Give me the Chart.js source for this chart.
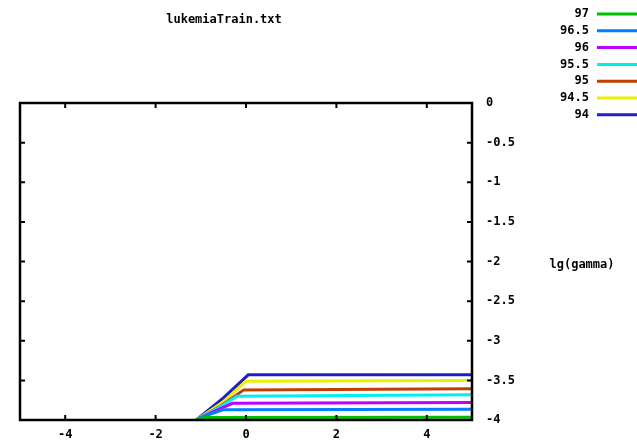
<!DOCTYPE html>
<html>
<head>
<meta charset="utf-8">
<script src="https://cdn.jsdelivr.net/npm/chart.js@4/dist/chart.umd.min.js"></script>
<style>
  html, body { margin: 0; padding: 0; background: #fff; }
  #wrap { width: 637px; height: 444px; }
</style>
</head>
<body>
<div id="wrap"><canvas id="grid"></canvas></div>
<script>
const title = 'lukemiaTrain.txt';
const yTitle = 'lg(gamma)';
const xTicks = [-4, -2, 0, 2, 4];
const yTicks = [0, -0.5, -1, -1.5, -2, -2.5, -3, -3.5, -4];

// contour levels, top of legend first
const levels = ['97', '96.5', '96', '95.5', '95', '94.5', '94'];
const colors = ['#00c000', '#0080ff', '#c000ff', '#00eeee', '#c04000', '#eeee00', '#2020c0'];

// contour lines (lg C, lg gamma)
const c97x = [-1.1, -0.9, 5];
const c97y = [-4, -3.97, -3.966];
const c965x = [-1.1, -0.8, -0.5, 5];
const c965y = [-4, -3.93, -3.87, -3.865];
const c96x = [-1.1, -0.7, -0.3, 5];
const c96y = [-4, -3.89, -3.79, -3.78];
const c955x = [-1.1, -0.65, -0.2, 5];
const c955y = [-4, -3.86, -3.70, -3.68];
const c95x = [-1.1, -0.55, -0.05, 5];
const c95y = [-4, -3.82, -3.62, -3.605];
const c945x = [-1.1, -0.5, 0, 5];
const c945y = [-4, -3.77, -3.51, -3.50];
const c94x = [-1.1, -0.5, 0.05, 5];
const c94y = [-4, -3.72, -3.43, -3.43];

const contours = [[c97x, c97y], [c965x, c965y], [c96x, c96y], [c955x, c955y],
                  [c95x, c95y], [c945x, c945y], [c94x, c94y]];

const FONT = 'bold 12px "DejaVu Sans Mono"';

const gnuplotFrame = {
  id: 'gnuplotFrame',
  afterDraw(chart) {
    const c = chart.ctx, a = chart.chartArea;
    const xs = chart.scales.x, ys = chart.scales.y;
    c.save();
    c.strokeStyle = '#000';
    c.lineWidth = 2.5;
    c.strokeRect(a.left, a.top, a.right - a.left, a.bottom - a.top);
    c.lineWidth = 2;
    c.beginPath();
    xTicks.forEach(v => {
      const px = xs.getPixelForValue(v);
      c.moveTo(px, a.bottom); c.lineTo(px, a.bottom - 5);
      c.moveTo(px, a.top); c.lineTo(px, a.top + 5);
    });
    yTicks.forEach(v => {
      const py = ys.getPixelForValue(v);
      c.moveTo(a.left, py); c.lineTo(a.left + 5, py);
      c.moveTo(a.right, py); c.lineTo(a.right - 5, py);
    });
    c.stroke();

    c.fillStyle = '#000';
    c.font = FONT;
    c.textBaseline = 'middle';
    c.textAlign = 'center';
    c.fillText(title, 224, 20);
    c.fillText(yTitle, 582, 265);

    // legend
    c.textAlign = 'right';
    levels.forEach((lab, i) => {
      const y = 14 + i * 16.8;
      c.fillStyle = '#000';
      c.fillText(lab, 589, y);
      c.strokeStyle = colors[i];
      c.lineWidth = 3;
      c.beginPath();
      c.moveTo(597, y); c.lineTo(637, y);
      c.stroke();
    });
    c.restore();
  }
};

const tickFont = { family: 'DejaVu Sans Mono', size: 12, weight: 'bold' };

new Chart(document.getElementById('grid'), {
  type: 'scatter',
  data: {
    datasets: contours.map((ct, i) => ({
      label: levels[i],
      data: ct[0].map((x, j) => ({ x: x, y: ct[1][j] })),
      showLine: true,
      borderColor: colors[i],
      backgroundColor: colors[i],
      borderWidth: 3,
      pointRadius: 0,
      tension: 0
    }))
  },
  options: {
    responsive: true,
    maintainAspectRatio: false,
    animation: false,
    layout: { padding: { left: 20, top: 103, right: 0, bottom: 0 } },
    plugins: { legend: { display: false }, tooltip: { enabled: false } },
    scales: {
      x: {
        type: 'linear', position: 'bottom', min: -5, max: 5,
        grid: { display: false, drawTicks: false },
        border: { display: false },
        afterBuildTicks: s => { s.ticks = xTicks.map(v => ({ value: v })); },
        afterFit: s => { s.height = 24; },
        ticks: { color: '#000', font: tickFont, padding: 8, maxRotation: 0, callback: v => String(v) }
      },
      y: {
        type: 'linear', position: 'right', min: -4, max: 0,
        grid: { display: false, drawTicks: false },
        border: { display: false },
        afterBuildTicks: s => { s.ticks = yTicks.map(v => ({ value: v })); },
        afterFit: s => { s.width = 165; },
        ticks: { color: '#000', font: tickFont, padding: 14, crossAlign: 'near', callback: v => String(v) }
      }
    }
  },
  plugins: [gnuplotFrame]
});
</script>
</body>
</html>
